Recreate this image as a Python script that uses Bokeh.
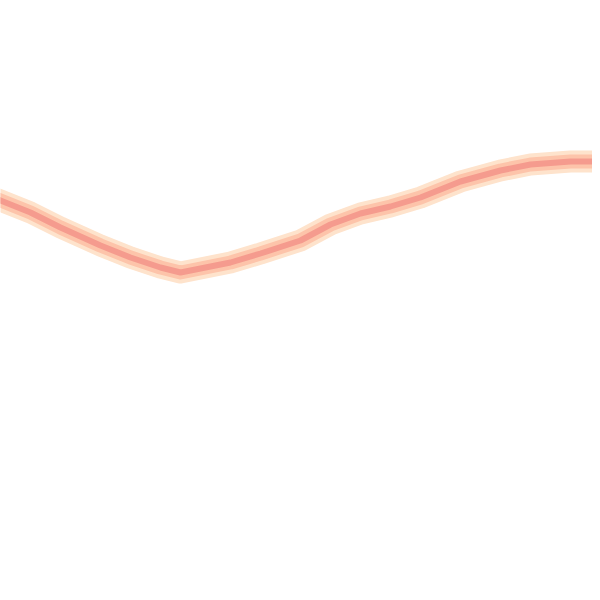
from bokeh.plotting import figure
from bokeh.models import Range1d
from bokeh.embed import file_html
from bokeh.resources import INLINE

# centre line of the density band (x, y in picture pixels)
xs = [-10, 0, 30, 60, 100, 130, 160, 180, 200, 230, 260, 300, 330, 360, 390, 420, 460, 500, 530, 570, 610]
ys = [196, 200, 212, 227, 245, 257, 267, 272, 268, 262, 253, 240, 224, 213, 206, 197, 181, 170, 164, 161, 161]

p = figure(width=592, height=592, output_backend="svg", toolbar_location=None,
           x_range=Range1d(0, 592), y_range=Range1d(592, 0),
           min_border=0, outline_line_color=None)
p.axis.visible = False
p.grid.visible = False
p.background_fill_color = "white"
p.border_fill_color = "white"

p.line(xs, ys, line_width=22, line_color="#fee3cc", line_join="round", line_cap="round")
p.line(xs, ys, line_width=14, line_color="#fdc4aa", line_join="round", line_cap="round")
p.line(xs, ys, line_width=6, line_color="#f59b8e", line_join="round", line_cap="round")

open("out.html", "w").write(file_html(p, INLINE))
